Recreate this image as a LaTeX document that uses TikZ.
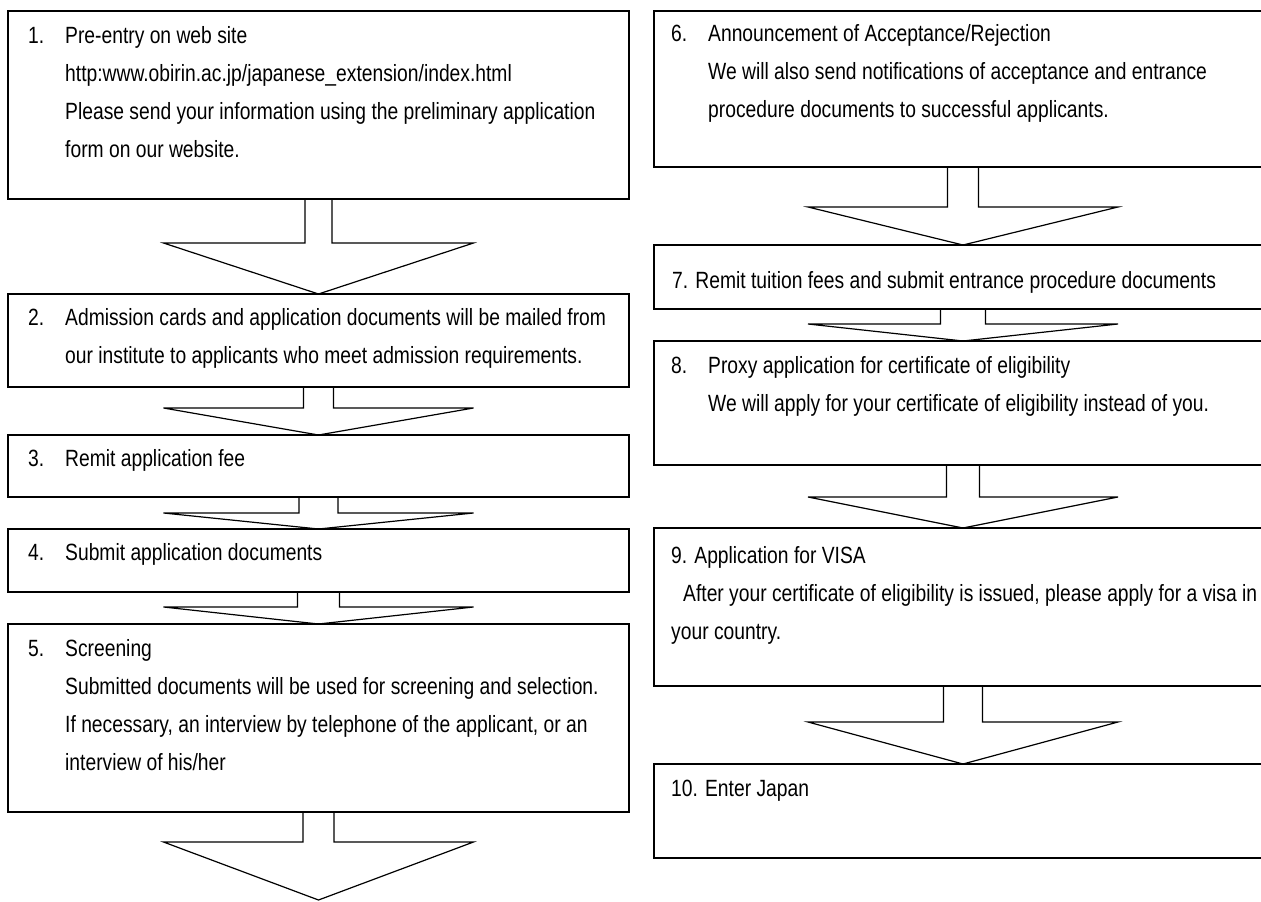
\documentclass[tikz,border=0pt]{standalone}
\usepackage{fontspec}
\setmainfont{Liberation Sans}[FakeStretch=0.82]
\usetikzlibrary{calc}
\newcommand\nb[1]{\makebox[37pt][l]{#1}}
\newcommand\ind{\hspace*{37pt}}
\newcommand\first{\rule{0pt}{30pt}}
\newcommand\flowarrow[4]{%
\draw[flow] ($(#1.south)+(-#3,0)$)--++(0,#4)--++(-155+#3,0)--(#2)--($(#1.south)+(155,#4)$)--++(-155+#3,0)--++(0,-#4);}
\begin{document}
\begin{tikzpicture}[x=1pt,y=-1pt,line join=miter,
box/.style={draw,line width=1.2pt,anchor=north west,inner sep=0,outer sep=0,minimum width=#1},
box/.default=621pt,
txt/.style={anchor=north west,inner sep=0,align=left,font=\fontsize{23.5}{38}\selectfont},
flow/.style={line width=1.2pt}]
\useasboundingbox (0,0) rectangle (1261,902);
\clip (0,0) rectangle (1261,902);
\node[box,minimum height=188pt] (b1) at (8,11) {};
\node[box,minimum height=93pt] (b2) at (8,294) {};
\node[box,minimum height=62pt] (b3) at (8,435) {};
\node[box,minimum height=63pt] (b4) at (8,529) {};
\node[box,minimum height=188pt] (b5) at (8,624) {};
\node[box=618pt,minimum height=156pt] (b6) at (654,11) {};
\node[box=618pt,minimum height=64pt] (b7) at (654,245) {};
\node[box=618pt,minimum height=124pt] (b8) at (654,341) {};
\node[box=618pt,minimum height=158pt] (b9) at (654,528) {};
\node[box=618pt,minimum height=94pt] (b10) at (654,764) {};
\coordinate (end) at ($(b5.south)+(0,88)$);
\node[txt] (t1) at ($(b1.north west)+(20,2)$) {\first\nb{1.}Pre-entry on web site\\\ind http:www.obirin.ac.jp/japanese\_extension/index.html\\\ind Please send your information using the preliminary application\\\ind form on our website.};
\node[txt] (t2) at ($(b2.north west)+(20,1)$) {\first\nb{2.}Admission cards and application documents will be mailed from\\\ind our institute to applicants who meet admission requirements.};
\node[txt] (t3) at ($(b3.north west)+(20,1)$) {\first\nb{3.}Remit application fee};
\node[txt] (t4) at ($(b4.north west)+(20,1)$) {\first\nb{4.}Submit application documents};
\node[txt] (t5) at ($(b5.north west)+(20,2)$) {\first\nb{5.}Screening\\\ind Submitted documents will be used for screening and selection.\\\ind If necessary, an interview by telephone of the applicant, or an\\\ind interview of his/her};
\node[txt] (t6) at ($(b6.north west)+(17,0)$) {\first\nb{6.}Announcement of Acceptance/Rejection\\\ind We will also send notifications of acceptance and entrance\\\ind procedure documents to successful applicants.};
\node[txt] (t7) at ($(b7.north west)+(18,13)$) {\first 7. Remit tuition fees and submit entrance procedure documents};
\node[txt] (t8) at ($(b8.north west)+(17,2)$) {\first\nb{8.}Proxy application for certificate of eligibility\\\ind We will apply for your certificate of eligibility instead of you.};
\node[txt] (t9) at ($(b9.north west)+(17,5)$) {\first 9. Application for VISA\\\hspace*{12pt}After your certificate of eligibility is issued, please apply for a visa in\\your country.};
\node[txt] (t10) at ($(b10.north west)+(17,2)$) {\first 10. Enter Japan};
\flowarrow{b1}{b2.north}{13.5}{44}
\flowarrow{b2}{b3.north}{15}{21}
\flowarrow{b3}{b4.north}{19.5}{16}
\flowarrow{b4}{b5.north}{21}{15}
\flowarrow{b5}{end}{15.5}{30}
\flowarrow{b6}{b7.north}{15.5}{40}
\flowarrow{b7}{b8.north}{22.5}{15}
\flowarrow{b8}{b9.north}{16.5}{32}
\flowarrow{b9}{b10.north}{19.5}{36}
\end{tikzpicture}
\end{document}
